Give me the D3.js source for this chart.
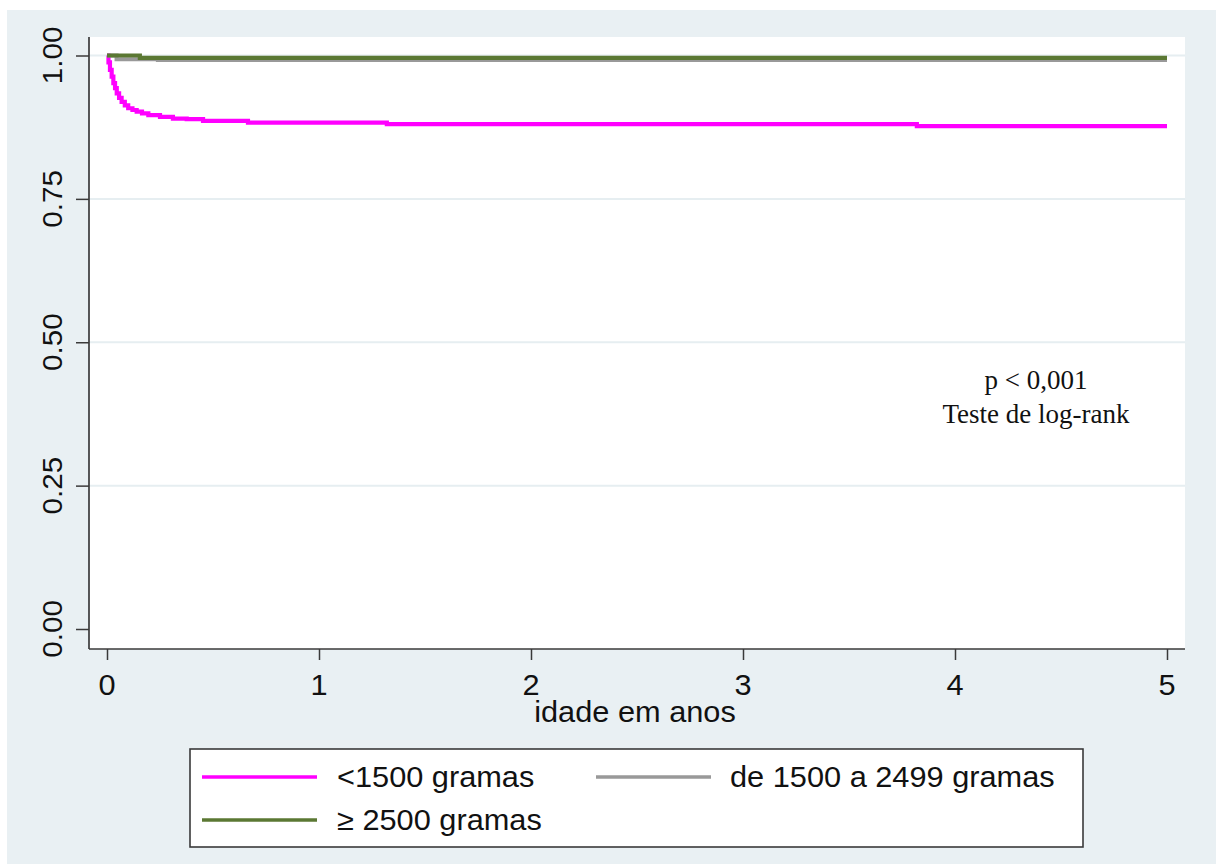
<!DOCTYPE html>
<html>
<head>
<meta charset="utf-8">
<script src="https://cdn.jsdelivr.net/npm/d3@7"></script>
<style>
  html, body { margin: 0; padding: 0; background: #ffffff; }
  svg { display: block; }
</style>
</head>
<body>
<svg id="chart" width="1216" height="864"></svg>
<script>
// Kaplan-Meier survival by birth weight group (time in years, survival proportion)
const seriesNames = ["<1500 gramas", "de 1500 a 2499 gramas", "\u2265 2500 gramas"];
const seriesColors = ["#ff00ff", "#999999", "#5b7833"];

const survLow = [
  [0, 1.000], [0.007, 0.988], [0.014, 0.975], [0.022, 0.963], [0.030, 0.952],
  [0.038, 0.943], [0.046, 0.934], [0.057, 0.926], [0.069, 0.919], [0.084, 0.913],
  [0.100, 0.908], [0.120, 0.905], [0.140, 0.902], [0.165, 0.899], [0.195, 0.896],
  [0.250, 0.893], [0.311, 0.890], [0.376, 0.889], [0.453, 0.886], [0.665, 0.883],
  [1.320, 0.8805], [3.820, 0.877], [5.000, 0.877]
];
const survMid = [[0, 1.000], [0.045, 0.9935], [0.240, 0.992], [5.000, 0.992]];
const survHigh = [[0, 1.000], [0.155, 0.996], [5.000, 0.996]];

const xTicks = [0, 1, 2, 3, 4, 5];
const yTicks = [0, 0.25, 0.5, 0.75, 1];
const yTickLabels = ["0.00", "0.25", "0.50", "0.75", "1.00"];
const gridValues = [0.25, 0.5, 0.75, 1];

const xTitle = "idade em anos";
const noteLines = ["p < 0,001", "Teste de log-rank"];

const svg = d3.select("#chart");
const sans = "'Liberation Sans', Arial, sans-serif";
const serif = "'Liberation Serif', 'Times New Roman', serif";
const stretch = 1.06; // slightly wider sans glyphs

// outer graph region
svg.append("rect").attr("x", 7).attr("y", 10).attr("width", 1209).attr("height", 854)
  .attr("fill", "#e9f0f3");

// plot region
const plot = { left: 89, top: 37, right: 1185, bottom: 649 };
svg.append("rect").attr("x", plot.left).attr("y", plot.top)
  .attr("width", plot.right - plot.left).attr("height", plot.bottom - plot.top)
  .attr("fill", "#ffffff");

const x = d3.scaleLinear().domain([0, 5]).range([107, 1167]);
const y = d3.scaleLinear().domain([0, 1]).range([629, 55.5]);

// gridlines
svg.append("g").selectAll("line").data(gridValues).join("line")
  .attr("x1", plot.left).attr("x2", plot.right)
  .attr("y1", d => y(d)).attr("y2", d => y(d))
  .attr("stroke", "#e6eef1").attr("stroke-width", 2);

// curves
const line = d3.line().x(d => x(d[0])).y(d => y(d[1])).curve(d3.curveStepAfter);
const allSeries = [survLow, survMid, survHigh];
const widths = [4.2, 4, 4.2];
svg.append("g").selectAll("path").data(allSeries).join("path")
  .attr("d", line)
  .attr("fill", "none")
  .attr("stroke", (d, i) => seriesColors[i])
  .attr("stroke-width", (d, i) => widths[i])
  .attr("stroke-linejoin", "miter");

// y axis
const yAxis = svg.append("g").attr("transform", `translate(${plot.left},0)`)
  .call(d3.axisLeft(y).tickValues(yTicks).tickSize(13).tickFormat(""));
yAxis.select(".domain").attr("d", `M0,${plot.top}V${plot.bottom}`)
  .attr("stroke", "#3a3a3a").attr("stroke-width", 1.7);
yAxis.selectAll(".tick line").attr("stroke", "#3a3a3a").attr("stroke-width", 1.5);

svg.append("g").selectAll("text").data(yTicks).join("text")
  .attr("transform", d => `translate(62,${y(d)}) rotate(-90) scale(${stretch},1)`)
  .attr("text-anchor", "middle")
  .attr("font-family", sans).attr("font-size", 28).attr("fill", "#111")
  .text((d, i) => yTickLabels[i]);

// x axis
const xAxis = svg.append("g").attr("transform", `translate(0,${plot.bottom})`)
  .call(d3.axisBottom(x).tickValues(xTicks).tickSize(11).tickFormat(""));
xAxis.select(".domain").attr("d", `M${plot.left},0H${plot.right}`)
  .attr("stroke", "#3a3a3a").attr("stroke-width", 1.7);
xAxis.selectAll(".tick line").attr("stroke", "#3a3a3a").attr("stroke-width", 1.5);

svg.append("g").selectAll("text").data(xTicks).join("text")
  .attr("transform", d => `translate(${x(d)},695) scale(${stretch},1)`)
  .attr("text-anchor", "middle")
  .attr("font-family", sans).attr("font-size", 29).attr("fill", "#111")
  .text(d => d);

svg.append("text")
  .attr("transform", `translate(${(plot.left + plot.right) / 2 - 2},722) scale(${stretch},1)`)
  .attr("text-anchor", "middle")
  .attr("font-family", sans).attr("font-size", 29).attr("fill", "#111")
  .text(xTitle);

// log-rank note
svg.append("g").selectAll("text").data(noteLines).join("text")
  .attr("x", 1036).attr("y", (d, i) => 389 + i * 34)
  .attr("text-anchor", "middle")
  .attr("font-family", serif).attr("font-size", 27).attr("fill", "#111")
  .text(d => d);

// legend
svg.append("rect").attr("x", 190).attr("y", 749).attr("width", 893).attr("height", 98)
  .attr("fill", "#ffffff").attr("stroke", "#3a3a3a").attr("stroke-width", 1.6);

const legendPos = [
  { lx: 202, ly: 777, tx: 337 },
  { lx: 596, ly: 777, tx: 730 },
  { lx: 202, ly: 820, tx: 337 }
];
const leg = svg.append("g").selectAll("g").data(seriesNames).join("g");
leg.append("line")
  .attr("x1", (d, i) => legendPos[i].lx).attr("x2", (d, i) => legendPos[i].lx + 115)
  .attr("y1", (d, i) => legendPos[i].ly).attr("y2", (d, i) => legendPos[i].ly)
  .attr("stroke", (d, i) => seriesColors[i]).attr("stroke-width", 3.6);
leg.append("text")
  .attr("transform", (d, i) => `translate(${legendPos[i].tx},${legendPos[i].ly + 10}) scale(${stretch},1)`)
  .attr("font-family", sans).attr("font-size", 29).attr("fill", "#111")
  .text(d => d);
</script>
</body>
</html>
